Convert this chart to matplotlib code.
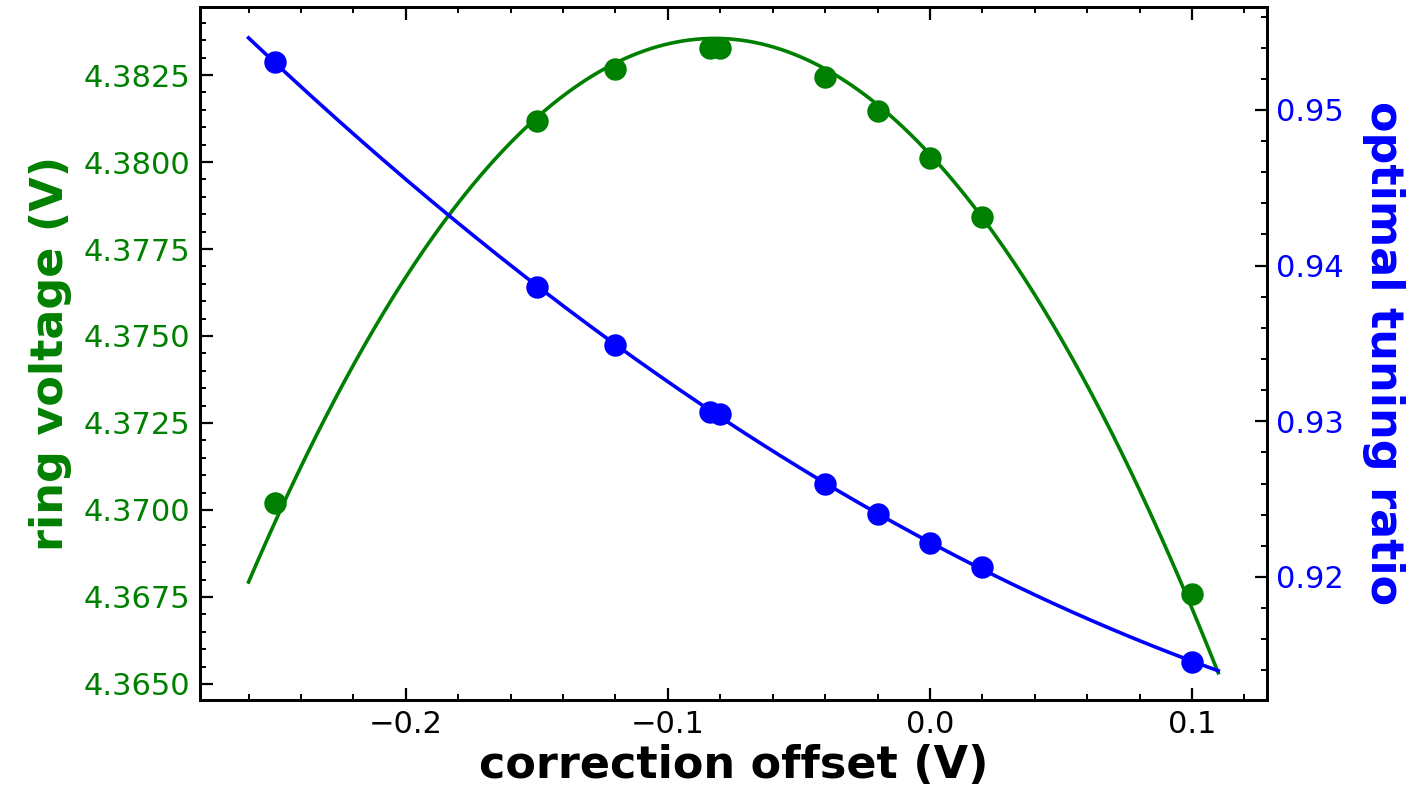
import numpy as np
import matplotlib.pyplot as plt
from matplotlib.ticker import AutoMinorLocator, MultipleLocator

# valores
offset = [-0.25, -0.15, -0.12, -0.084, -0.080, -0.04, -0.02, 0.0, 0.02, 0.10]
ring_v = [4.37020, 4.38118, 4.38267, 4.38328, 4.38328, 4.38244, 4.38147, 4.38012, 4.37842, 4.36759]
ratio = [0.95308, 0.93863, 0.93490, 0.93060, 0.93047, 0.92597, 0.92405, 0.92218, 0.92064, 0.91454]

# la curva verde del original no es el ajuste de minimos cuadrados de los puntos,
# asi que se leen puntos sobre la propia curva
curva_x = [-0.26, -0.20, -0.15, -0.08, 0.02, 0.05, 0.11]
curva_v = [4.3679, 4.3768, 4.3812, 4.3835, 4.3785, 4.3749, 4.3653]

x_fit = np.linspace(-0.26, 0.11, 300)
v_fit = np.polyval(np.polyfit(curva_x, curva_v, 2), x_fit)
r_fit = np.polyval(np.polyfit(offset, ratio, 2), x_fit)

fig, ax1 = plt.subplots(figsize=(7.045, 3.995), dpi=200)
fig.subplots_adjust(left=0.142, right=0.899, bottom=0.124, top=0.991)
ax2 = ax1.twinx()

ax1.plot(x_fit, v_fit, color='green', lw=1.3)
ax1.scatter(offset, ring_v, color='green', s=50, zorder=3)
ax2.plot(x_fit, r_fit, color='blue', lw=1.3)
ax2.scatter(offset, ratio, color='blue', s=50, zorder=3)

ax1.set_xlim(-0.2785, 0.1285)
ax1.set_ylim(4.36454, 4.38445)
ax2.set_ylim(0.9121, 0.9566)

ax1.xaxis.set_major_locator(MultipleLocator(0.1))
ax1.xaxis.set_minor_locator(AutoMinorLocator(5))
ax1.yaxis.set_major_locator(MultipleLocator(0.0025))
ax1.yaxis.set_minor_locator(AutoMinorLocator(5))
ax2.yaxis.set_major_locator(MultipleLocator(0.01))
ax2.yaxis.set_minor_locator(AutoMinorLocator(5))

ax1.tick_params(axis='x', which='both', direction='in', top=True, labelsize=11)
ax1.tick_params(axis='y', which='both', direction='in', labelsize=11, labelcolor='green')
ax2.tick_params(axis='y', which='both', direction='in', labelsize=11, labelcolor='blue')
for ax in (ax1, ax2):
    ax.tick_params(which='major', length=4.5, width=0.8)
    ax.tick_params(which='minor', length=2.2, width=0.7)
    for s in ax.spines.values():
        s.set_linewidth(1.0)

ax1.set_xlabel('correction offset (V)', fontsize=16, fontweight='bold', labelpad=2)
ax1.set_ylabel('ring voltage (V)', fontsize=16, fontweight='bold', color='green')
ax2.set_ylabel('optimal tuning ratio', fontsize=16, fontweight='bold', color='blue',
               rotation=270, labelpad=22)

plt.savefig('out.png', dpi=200)
